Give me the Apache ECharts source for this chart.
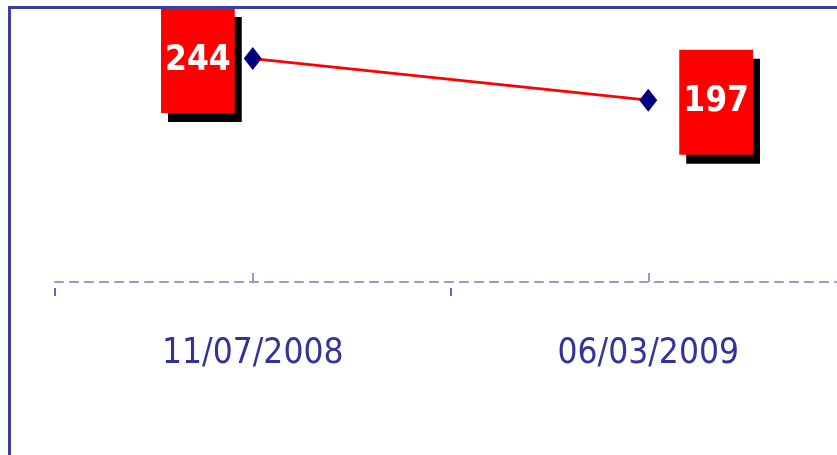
<!DOCTYPE html>
<html>
<head>
<meta charset="utf-8">
<script src="https://cdn.jsdelivr.net/npm/echarts@6/dist/echarts.min.js"></script>
<style>html,body{margin:0;padding:0;background:#fff}#c{width:837px;height:455px}</style>
</head>
<body>
<div id="c"></div>
<script>
const categories = ['11/07/2008', '06/03/2009'];
const values = [244, 197];
const labelSides = ['left', 'right'];
const labelDistances = [9, 22];

const chart = echarts.init(document.getElementById('c'));
const labelFont = "'DejaVu Sans Condensed', 'DejaVu Sans', sans-serif";

chart.setOption({
  animation: false,
  backgroundColor: '#ffffff',
  graphic: [{
    type: 'rect', silent: true, z: 100,
    shape: { x: 9.5, y: 7.5, width: 1000, height: 800 },
    style: { fill: 'none', stroke: '#3d3da6', lineWidth: 3 }
  }],
  grid: { left: 55, width: 791, top: 8, bottom: 173, containLabel: false, outerBoundsMode: 'none' },
  xAxis: [{
    type: 'category',
    data: categories,
    boundaryGap: true,
    axisLine: { onZero: false, lineStyle: { color: '#9999cc', width: 2, type: [8, 7] } },
    axisTick: { show: true, inside: true, alignWithLabel: true, length: 9, lineStyle: { color: '#9999cc', width: 2 } },
    axisLabel: { margin: 54, color: '#333399', fontSize: 35, fontFamily: labelFont }
  }, {
    type: 'category',
    data: categories,
    position: 'bottom',
    offset: 6,
    boundaryGap: true,
    axisLine: { show: false, onZero: false },
    axisTick: { show: true, length: 8, lineStyle: { color: '#333399', width: 1.5 } },
    axisLabel: { show: false }
  }],
  yAxis: {
    type: 'value', min: -8, max: 301, show: false,
    splitLine: { show: false }
  },
  series: [{
    type: 'line',
    xAxisIndex: 0,
    data: values.map((v, i) => ({
      value: v,
      label: { position: labelSides[i], distance: labelDistances[i] }
    })),
    symbol: 'diamond',
    symbolSize: [18, 23],
    itemStyle: { color: '#000080' },
    lineStyle: { color: '#ff0000', width: 2.8 },
    z: 5,
    label: {
      show: true,
      color: '#ffffff',
      fontWeight: 'bold',
      fontSize: 35,
      fontFamily: labelFont,
      lineHeight: 35,
      padding: [35, 4, 35, 4],
      backgroundColor: '#ff0000',
      shadowColor: '#000000',
      shadowBlur: 0,
      shadowOffsetX: 7,
      shadowOffsetY: 9,
      offset: [0, 2]
    }
  }]
});
</script>
</body>
</html>
